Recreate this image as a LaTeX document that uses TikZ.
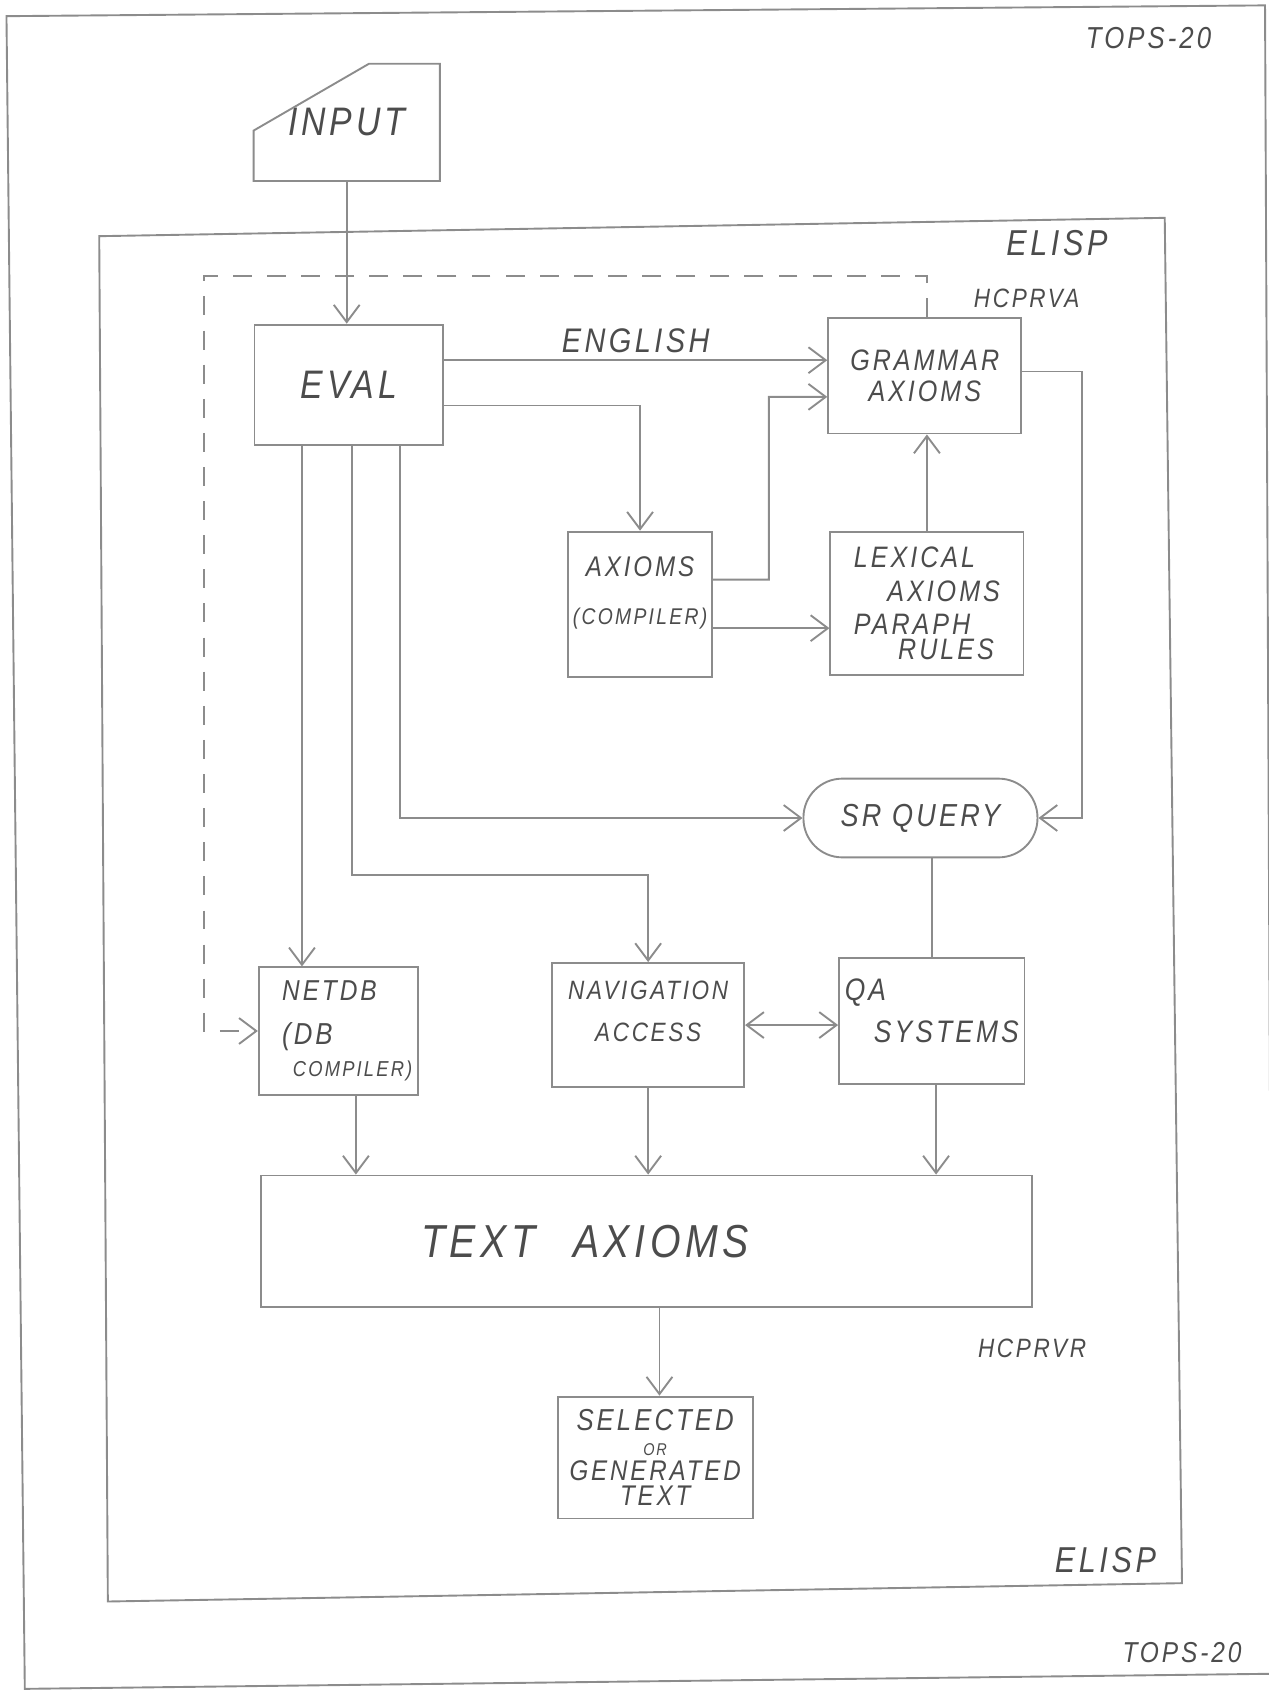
\documentclass[tikz,border=0pt]{standalone}
\usepackage{fontspec}
\setmainfont{Liberation Sans}
\newfontfamily\handfont[LetterSpace=10, FakeStretch=0.85]{Liberation Sans}
\usepackage{xcolor}
\usetikzlibrary{arrows.meta, positioning, calc}
\definecolor{pencil}{gray}{0.55}
\definecolor{lead}{gray}{0.30}
\newcommand{\hw}[2]{\handfont\itshape\fontsize{#1}{#2}\selectfont}

\begin{document}
\begin{tikzpicture}[
    color=pencil, line width=0.5pt,
    font=\hw{8}{10},
    box/.style={draw=pencil, text=lead, inner sep=0pt, align=center},
    arr/.style={pencil, -{Straight Barb[length=1.6mm, width=2.4mm]}},
    dualarr/.style={pencil, {Straight Barb[length=1.6mm, width=2.4mm]}-{Straight Barb[length=1.6mm, width=2.4mm]}},
    dashline/.style={arr, dashed, dash pattern=on 5pt off 4pt},
    tag/.style={text=lead, inner sep=0pt}
  ]
  \useasboundingbox (0,0) rectangle (11.76,-15.68);

  % frames and their names
  \draw (0.06,-0.15) -- (11.73,-0.05) -- (11.80,-15.52) -- (0.23,-15.66) -- cycle;
  \draw (0.92,-2.19) -- (10.80,-2.02) -- (10.96,-14.68) -- (1.00,-14.85) -- cycle;
  \node[tag, font=\hw{8}{10}] (topsA) at (10.65,-0.35) {TOPS-20};
  \node[tag, font=\hw{7.6}{10}] (topsB) at (10.96,-15.32) {TOPS-20};
  \node[tag, font=\hw{9.5}{11}] (elispA) at (9.80,-2.25) {ELISP};
  \node[tag, font=\hw{9.5}{11}] (elispB) at (10.25,-14.47) {ELISP};
  \node[tag, font=\hw{7}{8}] (hcprva) at (9.52,-2.77) {HCPRVA};
  \node[tag, font=\hw{7}{8}] (hcprvr) at (9.57,-12.50) {HCPRVR};

  % input card
  \node[box, draw=none, minimum width=1.71cm, minimum height=1.07cm, font=\hw{10.5}{12}]
    (input) at (3.215,-1.135) {\raisebox{-2mm}{INPUT}};
  \draw (input.south west) -- (input.south east) -- (input.north east)
    -- ([xshift=10.7mm]input.north west) -- ([yshift=-6.2mm]input.north west) -- cycle;

  % boxes
  \node[box, minimum width=1.75cm, minimum height=1.12cm, font=\hw{10.5}{12}] (eval) at (3.235,-3.57) {EVAL};
  \node[box, minimum width=1.79cm, minimum height=1.07cm, font=\hw{7.8}{8}] (grammar) at (8.575,-3.485) {GRAMMAR\\AXIOMS};
  \node[box, minimum width=1.33cm, minimum height=1.35cm, font=\hw{7.5}{12.8}] (axioms) at (5.935,-5.605)
    {AXIOMS\\{\hw{6}{12.8}(COMPILER)}\\[-5.4pt]};
  \node[box, minimum width=1.79cm, minimum height=1.33cm, align=left, font=\hw{7.8}{7.7}] (lexical) at (8.595,-5.595)
    {LEXICAL\\[1.1pt]\hspace*{3.1mm}AXIOMS\\[1.1pt]PARAPH\\[-1.2pt]\hspace*{4.1mm}RULES};
  \node[box, minimum width=2.17cm, minimum height=0.73cm, rounded corners=3.6mm, font=\hw{8.4}{10}] (srquery) at (8.535,-7.585) {SR QUERY};
  \node[box, minimum width=1.48cm, minimum height=1.18cm, align=left, font=\hw{7.6}{10}] (netdb) at (3.14,-9.56)
    {\hspace*{1.6mm}NETDB\\[1.4pt]\hspace*{1.6mm}{\hw{8}{10}(DB}\\[-1.5pt]\hspace*{2.6mm}{\hw{5.7}{10}COMPILER)}};
  \node[box, minimum width=1.78cm, minimum height=1.15cm, font=\hw{7}{11.1}] (navig) at (6.01,-9.505)
    {NAVIGATION\\ACCESS\\[-3.7pt]};
  \node[box, minimum width=1.72cm, minimum height=1.17cm, align=left, font=\hw{8.2}{11.1}] (qa) at (8.64,-9.465)
    {QA\\\hspace*{2.7mm}SYSTEMS\\[-6pt]};
  \node[box, minimum width=7.15cm, minimum height=1.22cm, font=\hw{12.2}{14}] (textax) at (5.995,-11.51)
    {TEXT\hspace{3.5mm}AXIOMS\hspace{1.14cm}};
  \node[box, minimum width=1.81cm, minimum height=1.13cm, font=\hw{8}{6.6}] (selected) at (6.075,-13.515)
    {SELECTED\\{\hw{4.5}{6.6}OR}\\{\hw{7.5}{6.6}GENERATED}\\{\hw{7.5}{6.6}TEXT}};

  % connectors
  \draw[arr] (input.south) -- (input.south |- eval.north);
  \draw[arr] ([yshift=2.3mm]eval.east) -- ([yshift=2.3mm]eval.east -| grammar.west)
    node[midway, above=0.6mm, tag, font=\hw{9}{10}] (english) {ENGLISH};
  \draw[arr] ([yshift=-1.9mm]eval.east) -| (axioms.north);
  \draw[arr] ([yshift=2.3mm]axioms.east) -| (7.13,-3.68) -- ([yshift=-1.95mm]grammar.west);
  \draw[arr] ([yshift=-2.2mm]axioms.east) -- ([yshift=-2.2mm]axioms.east -| lexical.west);
  \draw[arr] (lexical.north) -- (lexical.north |- grammar.south);
  \draw[arr] ([yshift=0.4mm]grammar.east) -- ++(0.55,0) |- (srquery.east);
  \draw[arr] ([xshift=4.75mm]eval.south) |- (srquery.west);
  \draw[arr] ([xshift=0.25mm]eval.south) |- ([yshift=8.1mm]navig.north) -- (navig.north);
  \draw[arr] ([xshift=-4.35mm]eval.south) -- ([xshift=-4.35mm]eval.south |- netdb.north);
  \draw (qa.north |- srquery.south) -- (qa.north);
  \draw[dualarr] (navig.east) -- (navig.east -| qa.west);
  \draw[arr] ([xshift=1.6mm]netdb.south) -- ([xshift=1.6mm]netdb.south |- textax.north);
  \draw[arr] (navig.south) -- (navig.south |- textax.north);
  \draw[arr] ([xshift=0.4mm]qa.south) -- ([xshift=0.4mm]qa.south |- textax.north);
  \draw[arr] ([xshift=0.4mm]selected.north |- textax.south) -- ([xshift=0.4mm]selected.north);
  \draw[dashline] ([xshift=0.2mm]grammar.north) |- (1.89,-2.56) |- (netdb.west);
\end{tikzpicture}
\end{document}
